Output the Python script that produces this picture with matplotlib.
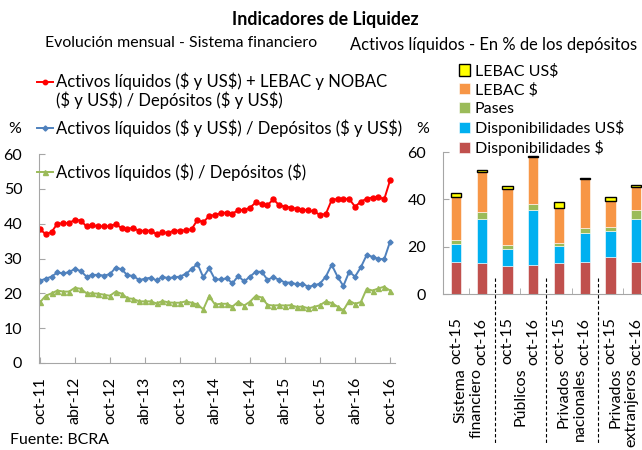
import matplotlib
matplotlib.use("Agg")
import matplotlib.pyplot as plt
from matplotlib.lines import Line2D
import numpy as np

plt.rcParams['font.family'] = ['Lato', 'DejaVu Sans']

# ---------------- data: left chart (monthly, oct-11 .. oct-16) ----------------
red_vals = [38.4, 37.0, 37.6, 40.0, 40.1, 40.2, 41.1, 40.9, 39.2, 39.5, 39.3, 39.2,
            39.3, 39.9, 38.7, 38.5, 38.8, 37.9, 38.0, 38.0, 37.0, 37.5, 37.4, 38.0,
            38.0, 38.1, 38.4, 41.1, 40.4, 42.2, 42.5, 43.0, 43.2, 42.9, 43.9, 43.9,
            44.6, 46.1, 45.6, 45.3, 47.0, 45.3, 44.9, 44.6, 44.3, 44.0, 43.8, 43.5,
            42.5, 42.8, 46.8, 47.1, 47.1, 47.1, 44.9, 46.3, 47.2, 47.5, 47.7, 47.0, 52.4]
blue_vals = [23.6, 24.2, 24.8, 26.0, 25.7, 26.1, 27.0, 26.4, 24.8, 25.3, 25.3, 25.1,
             25.5, 27.4, 26.9, 25.2, 25.0, 23.8, 24.2, 24.5, 23.7, 24.7, 24.4, 24.6,
             24.8, 25.6, 26.9, 28.5, 24.6, 27.2, 24.0, 24.0, 24.3, 22.9, 25.0, 23.4,
             24.8, 26.2, 26.2, 23.9, 24.6, 23.9, 23.1, 23.1, 22.6, 22.7, 21.9, 22.3,
             22.8, 24.8, 28.2, 24.8, 22.1, 26.2, 24.8, 27.5, 31.0, 30.5, 29.9, 29.8, 34.8]
green_vals = [17.4, 19.3, 20.0, 20.8, 20.5, 20.5, 21.6, 21.3, 20.0, 20.0, 19.9, 19.6,
              19.3, 20.5, 19.9, 18.6, 18.4, 17.7, 17.7, 17.7, 17.1, 17.8, 17.4, 17.3,
              17.3, 17.7, 17.3, 16.8, 15.4, 19.2, 16.8, 17.0, 17.0, 16.2, 17.6, 16.5,
              17.6, 19.3, 18.8, 16.7, 16.5, 16.6, 16.5, 16.6, 16.1, 16.2, 15.7, 16.1,
              16.6, 17.7, 17.2, 16.2, 15.1, 17.9, 17.0, 17.5, 21.3, 20.8, 21.4, 21.9, 20.8]
month_ticks = ['oct-11', 'abr-12', 'oct-12', 'abr-13', 'oct-13', 'abr-14',
               'oct-14', 'abr-15', 'oct-15', 'abr-16', 'oct-16']

red_label = "Activos líquidos (\\$ y US\\$) + LEBAC y NOBAC\n(\\$ y US\\$) / Depósitos (\\$ y US\\$)"
blue_label = "Activos líquidos (\\$ y US\\$) / Depósitos (\\$ y US\\$)"
green_label = "Activos líquidos (\\$) / Depósitos (\\$)"

# ---------------- data: right chart (stacked bars) ----------------
bar_labels = ['oct-15', 'oct-16', 'oct-15', 'oct-16', 'oct-15', 'oct-16', 'oct-15', 'oct-16']
groups = ['Sistema\nfinanciero', 'Públicos', 'Privados\nnacionales', 'Privados\nextranjeros']
disp_pesos = [13.4, 13.0, 12.0, 12.3, 13.0, 13.6, 15.7, 13.6]
disp_usd = [7.8, 18.6, 6.9, 23.1, 7.3, 12.0, 10.9, 18.0]
pases = [1.6, 2.9, 1.6, 2.7, 1.1, 2.4, 1.5, 3.8]
lebac_pesos = [18.0, 17.1, 23.7, 19.6, 15.0, 20.4, 11.1, 9.9]
lebac_usd = [1.7, 0.6, 1.4, 0.5, 2.5, 0.5, 1.7, 0.6]

W, H = 642, 450
fig = plt.figure(figsize=(W / 100, H / 100), dpi=100)

def fx(px):
    return px / W

def fy(py):
    return 1 - py / H

spine_col = '#A6A6A6'
FS = 11.4

# ---------------- left chart ----------------
axL = fig.add_axes([fx(39), fy(363), fx(395) - fx(39), fy(154) - fy(363)])
months = np.arange(len(red_vals))
axL.plot(months, red_vals, color='#FF0000', lw=1.4, marker='o', ms=3.6, mec='#FF0000')
axL.plot(months, blue_vals, color='#4F81BD', lw=1.4, marker='D', ms=2.6, mec='#4F81BD')
axL.plot(months, green_vals, color='#9BBB59', lw=1.4, marker='^', ms=3.6, mec='#9BBB59')
axL.set_xlim(-0.15, 60.85)
axL.set_ylim(0, 60)
axL.set_yticks(np.arange(0, 61, 10))
axL.set_xticks(np.arange(0, 61, 6))
axL.set_xticklabels(month_ticks, rotation=90)
for s in ['top', 'right']:
    axL.spines[s].set_visible(False)
for s in ['left', 'bottom']:
    axL.spines[s].set_color(spine_col)
axL.tick_params(axis='both', direction='in', color=spine_col, length=4, labelsize=11.5)
axL.tick_params(axis='y', pad=12)
axL.tick_params(axis='x', pad=10)

# ---------------- right chart ----------------
axR = fig.add_axes([fx(443), fy(294), fx(642) - fx(443), fy(152) - fy(294)])
xb = np.arange(len(bar_labels))
bw = 0.4
bottom = np.zeros(len(xb))
series = [
    (disp_pesos, '#C0504D', 'Disponibilidades \\$'),
    (disp_usd, '#00B0F0', 'Disponibilidades US\\$'),
    (pases, '#9BBB59', 'Pases'),
    (lebac_pesos, '#F79646', 'LEBAC \\$'),
]
handles = []
for vals, col, lab in series:
    b = axR.bar(xb, vals, bw, bottom=bottom, color=col, edgecolor='white', linewidth=0.4, label=lab)
    handles.append(b)
    bottom = bottom + np.array(vals)
b = axR.bar(xb, lebac_usd, bw, bottom=bottom, color='#FFFF00', edgecolor='black', linewidth=1.0,
            label='LEBAC US\\$')
handles.append(b)
axR.set_xlim(-0.5, 7.22)
axR.set_ylim(0, 60)
axR.set_yticks([0, 20, 40, 60])
axR.set_xticks(xb)
axR.set_xticklabels(bar_labels, rotation=90)
axR.set_xticks([0.5, 2.5, 4.5, 6.5], minor=True)
for s in ['top', 'right']:
    axR.spines[s].set_visible(False)
for s in ['left', 'bottom']:
    axR.spines[s].set_color(spine_col)
axR.tick_params(axis='both', direction='in', color=spine_col, length=4, labelsize=11.5)
axR.tick_params(axis='x', which='major', length=0, pad=17)
axR.tick_params(axis='x', which='minor', direction='in', length=4, color=spine_col)
axR.tick_params(axis='y', pad=12)

# dashed separators between groups
for xs in [1.5, 3.5, 5.5]:
    axR.add_line(Line2D([xs, xs], [0.1125, -1.05], transform=axR.get_xaxis_transform(),
                        color='black', lw=0.8, ls=(0, (3, 2)), clip_on=False))
# group labels (top aligned just below the tick labels)
for i, g in enumerate(groups):
    xc = 2 * i + 0.5
    axR.text(xc, -0.52, g, transform=axR.get_xaxis_transform(), rotation=90,
             ha='center', va='top', multialignment='right', fontsize=11.5,
             linespacing=1.2)

# right legend
leg = fig.legend(handles=handles[::-1], labels=[h.get_label() for h in handles[::-1]],
                 loc='upper left', bbox_to_anchor=(fx(459), fy(64)), frameon=False,
                 fontsize=11.5, handlelength=0.7, handleheight=0.7, handletextpad=0.3,
                 labelspacing=0.27, borderpad=0, borderaxespad=0)

# ---------------- titles & texts ----------------
fig.text(fx(325), fy(19), 'Indicadores de Liquidez', ha='center', va='center',
         fontsize=12.8, fontweight='bold')
fig.text(fx(45), fy(43), 'Evolución mensual - Sistema financiero', ha='left', va='center',
         fontsize=FS)
fig.text(fx(350), fy(45), 'Activos líquidos - En % de los depósitos', ha='left', va='center',
         fontsize=FS + 0.5)
fig.text(fx(10), fy(440), 'Fuente: BCRA', ha='left', va='center', fontsize=FS)
fig.text(fx(15), fy(129), '%', ha='center', va='center', fontsize=FS)
fig.text(fx(423), fy(129), '%', ha='center', va='center', fontsize=FS)

# left legend entries (manual)
def legend_entry(y_px, color, marker, ms, text, text_y=None):
    xs = [fx(37), fx(45), fx(53)]
    ys = [fy(y_px)] * 3
    fig.add_artist(Line2D(xs, ys, transform=fig.transFigure, color=color, lw=1.4,
                          marker=marker, ms=ms, markevery=[1], mec=color))
    fig.text(fx(56), fy(text_y if text_y is not None else y_px), text, ha='left',
             va='top' if text_y is not None else 'center', fontsize=FS + 0.6, linespacing=1.15)

legend_entry(82, '#FF0000', 'o', 3.2, red_label, text_y=72)
legend_entry(128, '#4F81BD', 'D', 2.6, blue_label)
legend_entry(172, '#9BBB59', '^', 3.6, green_label)

fig.savefig('out.png', dpi=100)
